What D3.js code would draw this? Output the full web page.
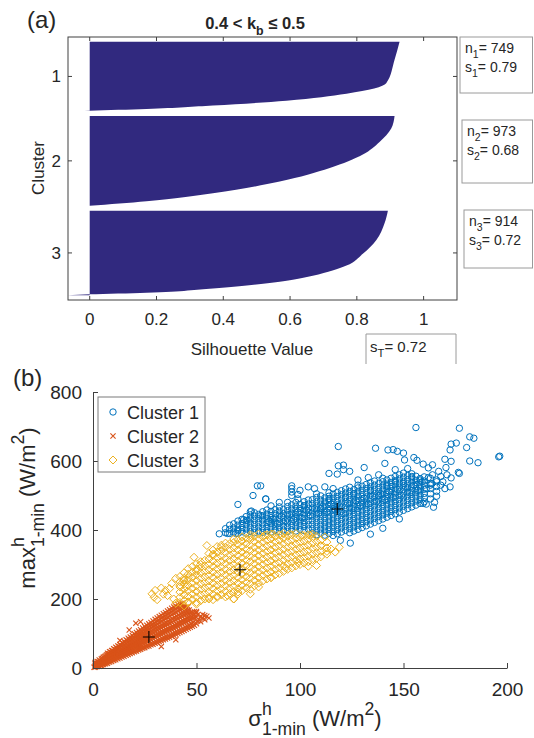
<!DOCTYPE html>
<html><head><meta charset="utf-8">
<script src="https://cdn.jsdelivr.net/npm/d3@7"></script>
<style>
html,body{margin:0;padding:0;background:#fff;}
text{font-family:"Liberation Sans",Arial,Helvetica,sans-serif;fill:#262626;}
</style></head>
<body><svg id="c" width="534" height="738"></svg>
<script>
// ---------------- DATA ----------------
// Panel (a): silhouette profiles  [fraction of cluster rows, silhouette value]
const clusterNames = ["1", "2", "3"];
const clusterSizes = [749, 973, 914];
const clusterSil = ["0.79", "0.68", "0.72"];
const totalSil = "0.72";
const silProfile1 = [[0,0.928],[0.26,0.913],[0.6,0.888],[0.75,0.769],[0.85,0.589],[0.92,0.369],[0.97,0.17],[0.995,0.0],[1,-0.03]];
const silProfile2 = [[0,0.913],[0.14,0.903],[0.29,0.868],[0.43,0.818],[0.58,0.719],[0.73,0.569],[0.86,0.369],[0.95,0.17],[1,0.0]];
const silProfile3 = [[0,0.893],[0.15,0.883],[0.35,0.858],[0.51,0.818],[0.65,0.769],[0.77,0.668],[0.84,0.569],[0.92,0.369],[0.97,0.17],[0.99,0.0],[1,-0.066]];
const silXTicks = [0, 0.2, 0.4, 0.6, 0.8, 1];

// Panel (b): scatter points [sigma, max]  (scattered fringe points)
const cluster1Pts = [
[156,697],[177,695],[182,670],[184,666],[196,612],[196.5,614],[186,595],[182,600],[180.5,639],[173,649],[175.5,652],[172.5,632],[170,605],[173,599],[170.5,581],[173,551],[172.5,525],[177,564],[176.5,567],[118.5,642],[136.5,637],[142.5,632],[145,633],[147,628],[150,623],[150.5,603],[155,610],[156.5,602],[159.5,591],[164,589],[141,593],[131,581],[118.5,586],[121,588],[114,564],[118,562],[124,570],[121,575],[83.5,490],[96,528],[96,520],[96,510],[100,515],[104,525],[107,520],[112,525],[116,520],[81,528],[79.4,528],[77.3,500],[70,474],[76,453],[76.5,455],[72.8,430],[74.5,428],[61,389],[65,390],[69,390],[70,398],[81,442],[83.4,490],[96,500],[99,503],[164.5,466],[124.3,362],[119.5,370],[163.7,534],[159.5,477],
[85,425],[87,432],[89,418],[91,440],[93,426],[95,445],[97,430],[99,452],[101,435],[103,458],[105,442],[107,462],[109,448],[111,468],[113,452],[115,475],[117,458],[119,470],[121,448],[123,478],[125,462],[127,485],[129,470],[131,492],[133,475],[135,498],[137,482],[139,505],[141,488],[143,512],[145,495],[147,518],[149,500],[151,525],[153,508],[155,530],[157,515],[159,540],[161,520],[163,530],[86,470],[94,480],[102,470],[110,462],[114,490],[122,495],[126,505],[134,515],[138,500],[142,528],[146,540],[150,535],[154,555],[158,545],[162,552],[166,545],[168,530],[161,475],[162,580],[164,560],[165,480],[167,570],[168,555],[169,540],[170,520],[171,560],[128,545],[133,552],[138,560],[108,505],[90,480],[99,490],[146,575],[152,578],[134,388],[140,405],[148,432]
];
// dense core, per column: [sigma, [max values]]
const cluster1Core = [
[64,[392,404]],[66,[390,402,414]],[68,[394,406,418]],[70,[390,402,414,426]],[72,[395,407,419,431]],
[74,[391,403,415,427,439]],[76,[396,408,420,432,444]],[78,[392,404,416,428,440,450]],[80,[397,409,421,433,445]],
[82,[393,405,417,429,441,453]],[84,[398,410,422,434,446,458]],[86,[394,406,418,430,442,454]],[88,[399,411,423,435,447,459]],
[90,[395,407,419,431,443,455,467]],[92,[400,412,424,436,448,460]],[94,[396,408,420,432,444,456,468]],[96,[401,413,425,437,449,461,473]],
[98,[397,409,421,433,445,457,469,480]],[100,[402,414,426,438,450,462,474]],[102,[398,410,422,434,446,458,470,482]],
[104,[403,415,427,439,451,463,475,487]],[106,[392,404,416,428,440,452,464,476,488]],[108,[386,398,410,422,434,446,458,470,482,494]],
[110,[391,403,415,427,439,451,463,475,487,499]],[112,[385,397,409,421,433,445,457,469,481,493]],[114,[390,402,414,426,438,450,462,474,486,498,508]],
[116,[384,396,408,420,432,444,456,468,480,492,504]],[118,[389,401,413,425,437,449,461,473,485,497,509]],[120,[394,406,418,430,442,454,466,478,490,502,514]],
[122,[399,411,423,435,447,459,471,483,495,507,519]],[124,[392,404,416,428,440,452,464,476,488,500,512,524]],[126,[397,409,421,433,445,457,469,481,493,505,517]],
[128,[402,414,426,438,450,462,474,486,498,510,522,530]],[130,[407,419,431,443,455,467,479,491,503,515,527]],[132,[412,424,436,448,460,472,484,496,508,520,532]],
[134,[417,429,441,453,465,477,489,501,513,525,537]],[136,[422,434,446,458,470,482,494,506,518,530,542]],[138,[427,439,451,463,475,487,499,511,523,535]],
[140,[432,444,456,468,480,492,504,516,528,540,550]],[142,[437,449,461,473,485,497,509,521,533,545]],[144,[442,454,466,478,490,502,514,526,538,550]],
[146,[447,459,471,483,495,507,519,531,543,555]],[148,[452,464,476,488,500,512,524,536,548,560]],[150,[457,469,481,493,505,517,529,541,553,565]],
[152,[462,474,486,498,510,522,534,546,558]],[154,[467,479,491,503,515,527,539,551,563]],[156,[472,484,496,508,520,532,544,556]],
[158,[477,489,501,513,525,537,549]],[160,[482,494,506,518,530,542,554]],[163,[490,505,520,535,550]],[166,[498,512,526,540]]
];
const cluster2Pts = [
[0.5,2],[1.5,6],[2.5,7],[3.5,10],[4.5,13],[5.5,17],[6.5,21],[7.5,24],[8.5,28],[9.5,32],[10.5,36],[11.5,37],[12.5,42],[13.5,46],[14.5,44],[15.5,53],[16.5,56],[17.5,58],[18.5,62],[19.5,66],[20.5,69],[21.5,64],[22.5,67],[23.5,80],[24.5,83],[25.5,86],[26.5,90],[27.5,85],[28.5,89],[29.5,92],[30.5,95],[31.5,98],[32.5,101],[33.5,104],[34.5,107],[35.5,110],[36.5,113],[37.5,116],[38.5,119],[39.5,123],[40.5,126],[41.5,130],[42.5,133],[43.5,137],[44.5,140],[45.5,144],
[44,177],[17.5,110],[20.7,130],[23,134],[13,80],[52.8,144],[46.4,124],[40,82],[33,62],[55,150],[56,145],[53,155],[51,140],[50,160],[49,155]
];
const cluster2Core = [
[1,[2,7,12,16]],[2,[4,9,14,19]],[3,[5,11,17,23]],[4,[7,13,19,26]],[5,[10,17,24,31]],[6,[12,19,27,35]],
[7,[14,22,30,38,43]],[8,[17,25,33,41,47]],[9,[19,28,36,44,51]],[10,[22,31,40,48,56]],[11,[24,34,43,52,60]],
[12,[27,37,47,56,64]],[13,[29,39,50,60,68]],[14,[32,43,54,64,73]],[15,[34,45,56,67,77]],[16,[37,48,60,71,82]],
[17,[39,51,63,75,86]],[18,[42,54,66,78,90]],[19,[44,57,70,82,94]],[20,[47,60,73,86,99]],[21,[49,63,77,90,103]],
[22,[52,66,80,94,107]],[23,[54,68,83,97,111]],[24,[57,72,87,101,116]],[25,[59,74,90,105,120]],[26,[62,77,93,109,124]],
[27,[64,80,96,112,128]],[28,[67,83,100,116,132]],[29,[69,86,103,120,136]],[30,[72,89,106,123,141]],[31,[74,92,110,127,145]],
[32,[77,95,113,131,149]],[33,[79,98,116,135,153]],[34,[82,101,120,139,157]],[35,[84,104,123,142,161]],[36,[87,107,127,146,165]],
[37,[89,110,130,150,169]],[38,[92,113,133,154,173]],[39,[95,116,137,158,177]],[40,[98,119,140,161,180]],[41,[100,122,144,165,184]],
[42,[103,125,147,168,186]],[43,[106,128,150,171,188]],[44,[109,131,153,174]],[45,[112,134,156,176]],[46,[115,137,159,178]],
[47,[118,140,160]],[48,[121,143,162]],[49,[124,145,163]],[50,[128,147,164]],[52,[134,150]],[54,[140,152]],
[1.5,[4,10,14]],[2.5,[6,12,18]],[3.5,[8,14,20]],[4.5,[10,16,22,28]],[5.5,[13,20,27,33]],[6.5,[15,23,31,38]],[7.5,[18,26,34,41]],
[8.5,[21,30,38,46]],[9.5,[24,33,42,50]],[10.5,[26,36,45,54]],[11.5,[29,39,49,58]],[12.5,[31,42,53,62]],[13.5,[34,45,56,66]],
[14.5,[36,48,60,71]],[15.5,[39,51,63,75]],[16.5,[41,54,66,79]],[17.5,[44,57,69,83]],[18.5,[46,60,73,86]],[19.5,[49,63,76,90]],
[20.5,[51,66,80,94]],[21.5,[54,69,83,98]],[22.5,[56,72,87,102]],[23.5,[59,75,91,106]],[24.5,[61,78,95,110]],[25.5,[64,81,98,114]],
[26.5,[66,84,102,118]],[27.5,[69,87,105,122]],[28.5,[71,90,108,126]],[29.5,[74,93,112,130]],[30.5,[77,96,115,134]],[31.5,[80,99,118,138]],
[32.5,[82,102,122,142]],[33.5,[85,105,125,146]],[34.5,[88,108,129,150]],[35.5,[90,111,132,154]],[36.5,[93,114,136,158]],[37.5,[96,117,140,162]],
[38.5,[99,121,143,166]],[39.5,[102,124,147,170]],[40.5,[105,128,150,174]],[41.5,[108,131,154,176]],[42.5,[111,134,158,178]],[43.5,[114,138,161,180]],
[44.5,[118,142,164]],[45.5,[121,146,166]],[46.5,[124,148,168]],[47.5,[128,150]],[48.5,[132,152]],[50.5,[136,154]],[53,[146]]
];
const cluster3Pts = [
[28.5,215],[29.5,205],[30,225],[31,198],[33,232],[35,225],[36,210],[38,245],[40,260],[42,240],[44,255],[46,262],[48.8,321],[50,280],[55,355],[52,300],[45,235],[58,330],[62,350],[34,214],[37,230],[39,200],
[71,285],[76,380],[83,385],[87,388],[91,385],[95,388],[101,385],[105,385],[106,388],[112,380],[108,297],[113,338],[117,336],[119,350],[115,345],[110,355],[104,295],[99,305],[93,290],[86,262],[80,235],[76,215],[70,220],[68,200],[65,210],[60,205],[56,200],[52,195],[50,185],[46,190],[44,180],[40,188]
];
const cluster3Core = [
[42,[190,205,220,235,250,265]],[44,[195,212,228,244,260,276]],[46,[192,208,224,240,256,272,288]],[48,[198,214,230,246,262,278,294]],
[50,[190,206,222,238,254,270,286,302]],[52,[196,212,228,244,260,276,292,308]],[54,[200,216,232,248,264,280,296,312]],
[56,[204,220,236,252,268,284,300,316,332]],[58,[198,214,230,246,262,278,294,310,326,342]],[60,[208,224,240,256,272,288,304,320,336,352]],
[62,[212,228,244,260,276,292,308,324,340,356]],[64,[206,222,238,254,270,286,302,318,334,350,362]],[66,[216,232,248,264,280,296,312,328,344,360]],
[68,[200,220,236,252,268,284,300,316,332,348,364,374]],[70,[214,230,246,262,278,294,310,326,342,358,372]],[72,[224,240,256,272,288,304,320,336,352,368,380]],
[74,[232,248,264,280,296,312,328,344,360,376]],[76,[228,244,260,276,292,308,324,340,356,372,386]],[78,[238,254,270,286,302,318,334,350,366,382]],
[80,[246,262,278,294,310,326,342,358,374,388]],[82,[252,268,284,300,316,332,348,364,380]],[84,[258,274,290,306,322,338,354,370,386]],
[86,[262,278,294,310,326,342,358,374,388]],[88,[270,286,302,318,334,350,366,382]],[90,[274,290,306,322,338,354,370,386]],
[92,[280,296,312,328,344,360,376,390]],[94,[286,302,318,334,350,366,382]],[96,[290,306,322,338,354,370,386]],
[98,[296,312,328,344,360,376,390]],[100,[300,316,332,348,364,380]],[102,[304,320,336,352,368,384]],[104,[308,324,340,356,372,386]],
[106,[314,330,346,362,378]],[108,[318,334,350,366,382]],[110,[322,338,354,370]],[113,[330,348,365]]
];
const centroids = [[118,461],[27,90],[71,285]];
const legendLabels = ["Cluster 1", "Cluster 2", "Cluster 3"];
const scatterXTicks = [0, 50, 100, 150, 200];
const scatterYTicks = [0, 200, 400, 600, 800];

// ---------------- DRAWING ----------------
const svg = d3.select("#c");
const axisColor = "#404040";
const colors = ["#0072BD", "#D95319", "#EDB120"];

function rich(parent, parts, size, attrs, supK, subK) {
  const su = supK || 0.45, sb = subK || 0.34;
  const t = parent.append("text").attr("font-size", size);
  Object.entries(attrs || {}).forEach(([k, v]) => t.attr(k, v));
  let shift = 0, lastW = 0;
  parts.forEach(p => {
    const s = t.append("tspan").text(p.t);
    const target = p.sup ? -su * size : (p.sub ? sb * size : 0);
    s.attr("dy", target - shift); shift = target;
    if (p.sup || p.sub) s.attr("font-size", size * (p.scale || 0.75));
    if (p.stack) s.attr("dx", -lastW);
    lastW = s.node().getComputedTextLength();
  });
  return t;
}
const expand = core => core.flatMap(([x, ys]) => ys.map(y => [x, y]));

// ===== Panel (a) =====
const A = {l: 68, r: 457, t: 37, b: 300};
const gap = 52;
const totalRows = clusterSizes.reduce((a, b) => a + b, 0) + gap * (clusterSizes.length + 1);
const xA = d3.scaleLinear().domain([-0.065, 1.1]).range([A.l, A.r]);
const yA = d3.scaleLinear().domain([0, totalRows]).range([A.t, A.b]);

const profiles = [silProfile1, silProfile2, silProfile3];
let start = gap;
const centers = [];
const gA = svg.append("g");
profiles.forEach((prof, i) => {
  const n = clusterSizes[i];
  const pts = prof.map(([f, v]) => ({row: start + f * n, v}));
  const area = d3.area()
    .y(d => yA(d.row)).x0(xA(0)).x1(d => xA(d.v))
    .curve(d3.curveMonotoneY);
  gA.append("path").attr("d", area(pts)).attr("fill", "#31297f");
  centers.push(start + n / 2);
  start += n + gap;
});

gA.append("rect").attr("x", A.l).attr("y", A.t).attr("width", A.r - A.l).attr("height", A.b - A.t)
  .attr("fill", "none").attr("stroke", axisColor).attr("stroke-width", 1);
silXTicks.forEach(v => {
  const x = xA(v);
  gA.append("line").attr("x1", x).attr("x2", x).attr("y1", A.b).attr("y2", A.b - 4).attr("stroke", axisColor);
  gA.append("line").attr("x1", x).attr("x2", x).attr("y1", A.t).attr("y2", A.t + 4).attr("stroke", axisColor);
  gA.append("text").attr("x", x).attr("y", A.b + 25).attr("text-anchor", "middle").attr("font-size", 17).text(v);
});
centers.forEach((c, i) => {
  const y = yA(c);
  gA.append("line").attr("x1", A.l).attr("x2", A.l + 4).attr("y1", y).attr("y2", y).attr("stroke", axisColor);
  gA.append("line").attr("x1", A.r).attr("x2", A.r - 4).attr("y1", y).attr("y2", y).attr("stroke", axisColor);
  gA.append("text").attr("x", A.l - 7).attr("y", y + 6).attr("text-anchor", "end").attr("font-size", 17).text(clusterNames[i]);
});
gA.append("text").attr("transform", "translate(44,168) rotate(-90)").attr("text-anchor", "middle")
  .attr("font-size", 17).text("Cluster");
gA.append("text").attr("x", 252).attr("y", 355).attr("text-anchor", "middle").attr("font-size", 17).text("Silhouette Value");
rich(gA, [{t: "0.4 < k"}, {t: "b", sub: true}, {t: " \u2264 0.5"}], 16.5,
  {x: 255, y: 29, "text-anchor": "middle", "font-weight": "bold"});
gA.append("text").attr("x", 27).attr("y", 28).attr("font-size", 24).text("(a)");

const boxes = [{x: 460, y: 37, w: 74, h: 56}, {x: 462, y: 120, w: 72, h: 63}, {x: 464, y: 210, w: 70, h: 58}];
boxes.forEach((b, i) => {
  gA.append("rect").attr("x", b.x).attr("y", b.y).attr("width", b.w - 1.5).attr("height", b.h)
    .attr("fill", "#fff").attr("stroke", "#9a9a9a").attr("stroke-width", 1);
  rich(gA, [{t: "n"}, {t: String(i + 1), sub: true}, {t: "= " + clusterSizes[i]}], 14, {x: b.x + 5, y: b.y + 16});
  rich(gA, [{t: "s"}, {t: String(i + 1), sub: true}, {t: "= " + clusterSil[i]}], 14, {x: b.x + 5, y: b.y + 35});
});
gA.append("path").attr("d", "M366,364 V334 H456 V364").attr("fill", "none").attr("stroke", "#9a9a9a");
rich(gA, [{t: "s"}, {t: "T", sub: true}, {t: "= " + totalSil}], 15, {x: 370, y: 352});

// ===== Panel (b) =====
const B = {l: 93, r: 507, t: 392, b: 668};
const xB = d3.scaleLinear().domain([0, 200]).range([B.l, B.r]);
const yB = d3.scaleLinear().domain([0, 800]).range([B.b, B.t]);
const gB = svg.append("g");

const mk = {
  circle: (g, x, y, c) => g.append("circle").attr("cx", x).attr("cy", y).attr("r", 3.2)
      .attr("fill", "none").attr("stroke", c).attr("stroke-width", 1),
  cross: (g, x, y, c) => g.append("path").attr("d", `M${x-2.6},${y-2.6}L${x+2.6},${y+2.6}M${x-2.6},${y+2.6}L${x+2.6},${y-2.6}`)
      .attr("stroke", c).attr("stroke-width", 1.1).attr("fill", "none"),
  diamond: (g, x, y, c) => g.append("path").attr("d", `M${x},${y-4}L${x+4},${y}L${x},${y+4}L${x-4},${y}Z`)
      .attr("stroke", c).attr("stroke-width", 1).attr("fill", "none")
};
const kinds = ["circle", "cross", "diamond"];
const allPts = [
  cluster1Pts.concat(expand(cluster1Core)),
  cluster2Pts.concat(expand(cluster2Core)),
  cluster3Pts.concat(expand(cluster3Core))
];
allPts.forEach((pts, i) => {
  const g = gB.append("g");
  pts.forEach(([x, y]) => mk[kinds[i]](g, xB(x), yB(y), colors[i]));
});
centroids.forEach(([x, y]) => {
  const px = xB(x), py = yB(y);
  gB.append("path").attr("d", `M${px-6},${py}H${px+6}M${px},${py-6}V${py+6}`).attr("stroke", "#000").attr("stroke-width", 1.1);
});

const xAxis = d3.axisBottom(xB).tickValues(scatterXTicks).tickSizeInner(-5).tickSizeOuter(0).tickPadding(15);
const yAxis = d3.axisLeft(yB).tickValues(scatterYTicks).tickSizeInner(-5).tickSizeOuter(0).tickPadding(11);
const gx = gB.append("g").attr("transform", `translate(0,${B.b})`).call(xAxis);
const gy = gB.append("g").attr("transform", `translate(${B.l},0)`).call(yAxis);
[gx, gy].forEach(g => {
  g.select(".domain").attr("stroke", axisColor);
  g.selectAll(".tick line").attr("stroke", axisColor);
  g.selectAll(".tick text").attr("font-size", 19).attr("fill", "#262626").attr("font-family", null);
});

rich(gB, [{t: "\u03C3"}, {t: "h", sup: true, scale: 0.8}, {t: "1-min", sub: true, stack: true, scale: 0.8}, {t: " (W/m"}, {t: "2", sup: true, scale: 0.8}, {t: ")"}], 22,
  {x: 315, y: 726, "text-anchor": "middle"}, 0.52, 0.4);
const yl = gB.append("g").attr("transform", "translate(35,508) rotate(-90)");
rich(yl, [{t: "max"}, {t: "h", sup: true, scale: 0.8}, {t: "1-min", sub: true, stack: true, scale: 0.8}, {t: "  (W/m"}, {t: "2", sup: true, scale: 0.8}, {t: ")"}], 22,
  {x: 0, y: 0, "text-anchor": "middle"}, 0.52, 0.4);
gB.append("text").attr("x", 13).attr("y", 386).attr("font-size", 24).text("(b)");

const lg = gB.append("g");
lg.append("rect").attr("x", 98).attr("y", 397).attr("width", 107).attr("height", 75)
  .attr("fill", "#fff").attr("stroke", "#7a7a7a").attr("stroke-width", 1);
legendLabels.forEach((lab, i) => {
  const y = 412 + i * 24;
  mk[kinds[i]](lg, 113, y, colors[i]);
  lg.append("text").attr("x", 127).attr("y", y + 6.5).attr("font-size", 18).text(lab);
});
</script></body></html>
